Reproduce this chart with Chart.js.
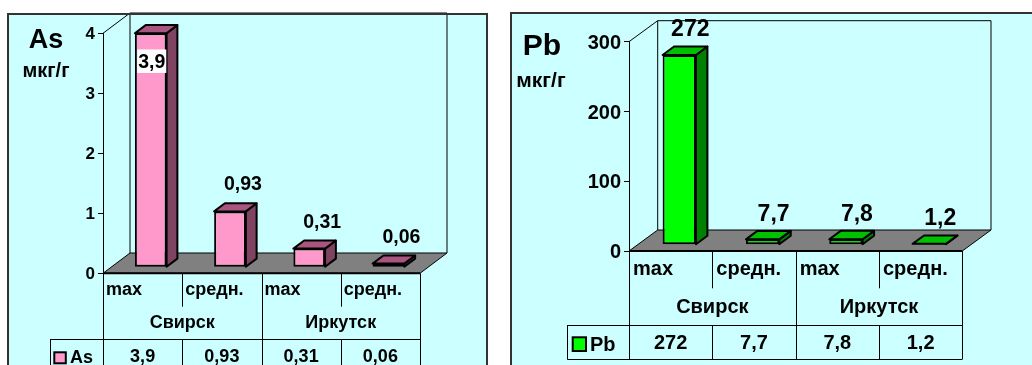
<!DOCTYPE html>
<html>
<head>
<meta charset="utf-8">
<script src="https://cdn.jsdelivr.net/npm/chart.js@4/dist/chart.umd.min.js"></script>
<style>
  html, body { margin: 0; padding: 0; background: #fff; width: 1032px; height: 365px; overflow: hidden; }
  canvas { position: absolute; top: 0; }
  #asChart { left: 0; }
  #pbChart { left: 500px; }
</style>
</head>
<body>
<canvas id="asChart" width="500" height="365"></canvas>
<canvas id="pbChart" width="532" height="365"></canvas>
<script>
// Sampling points: two towns, max and mean value for each
const subCategories = ['max', 'средн.', 'max', 'средн.'];
const towns = ['Свирск', 'Иркутск'];
const unitLabel = 'мкг/г';

// Arsenic content, мкг/г
const asValues = [3.9, 0.93, 0.31, 0.06];
const asTicks = [0, 1, 2, 3, 4];

// Lead content, мкг/г
const pbValues = [272, 7.7, 7.8, 1.2];
const pbTicks = [0, 100, 200, 300];

const FONT = '"Liberation Sans", Arial, Helvetica, sans-serif';
const fmt = v => String(v).replace('.', ',');
const px = v => Math.round(v) + 0.5;

// Draws an Excel-style 3D frame (side wall, back wall, floor), prism bars,
// value labels, value-axis labels and the data table under the category axis.
function frame3d(cfg) {
  const D = cfg.depth;
  const fx = D.x * cfg.barFront, fy = D.y * cfg.barFront;
  const bx = D.x * cfg.barDepth, by = D.y * cfg.barDepth;
  return {
    id: 'frame3d',
    beforeDraw(chart) {
      const ctx = chart.ctx, a = chart.chartArea, b = cfg.box;
      ctx.save();
      ctx.fillStyle = '#CCFFFF';
      ctx.fillRect(b.x, b.y, b.w, b.h);

      // floor
      ctx.beginPath();
      ctx.moveTo(a.left, a.bottom);
      ctx.lineTo(a.right, a.bottom);
      ctx.lineTo(a.right + D.x, a.bottom + D.y);
      ctx.lineTo(a.left + D.x, a.bottom + D.y);
      ctx.closePath();
      ctx.fillStyle = '#808080';
      ctx.fill();
      ctx.lineWidth = 1;
      ctx.strokeStyle = '#000';
      ctx.stroke();

      // side wall and back wall edges
      ctx.beginPath();
      ctx.moveTo(a.left, a.top);
      ctx.lineTo(a.left + D.x, a.top + D.y);
      ctx.lineTo(a.right + D.x, a.top + D.y);
      ctx.lineTo(a.right + D.x, a.bottom + D.y);
      ctx.moveTo(a.left + D.x, a.top + D.y);
      ctx.lineTo(a.left + D.x, a.bottom + D.y);
      ctx.stroke();

      // outer border
      ctx.lineWidth = 2;
      ctx.strokeStyle = '#333';
      ctx.strokeRect(b.x, b.y, b.w, b.h);

      // element symbol and unit
      ctx.fillStyle = '#000';
      ctx.textAlign = 'center';
      ctx.textBaseline = 'alphabetic';
      ctx.font = `bold ${cfg.title.size}px ${FONT}`;
      ctx.fillText(cfg.seriesName, cfg.title.x, cfg.title.y);
      ctx.font = `bold ${cfg.unit.size}px ${FONT}`;
      ctx.fillText(unitLabel, cfg.unit.x, cfg.unit.y);

      // value-axis labels at the scale's ticks
      const ys = chart.scales.y;
      ctx.font = `bold ${cfg.tickFont}px ${FONT}`;
      ctx.textAlign = 'right';
      ys.ticks.forEach(tk => {
        ctx.fillText(String(tk.value), a.left - 8, ys.getPixelForValue(tk.value) + cfg.tickFont * 0.36);
      });
      ctx.restore();
    },
    beforeDatasetsDraw(chart) {
      const ctx = chart.ctx;
      ctx.save();
      // bars stand in the middle of the floor depth
      ctx.translate(fx, fy);
      const meta = chart.getDatasetMeta(0);
      ctx.save();
      ctx.lineWidth = 2;
      ctx.strokeStyle = '#000';
      ctx.lineJoin = 'round';
      meta.data.forEach(el => {
        const { x, y, base, width } = el.getProps(['x', 'y', 'base', 'width'], true);
        const x0 = x - width / 2, x1 = x + width / 2;
        // right side face
        ctx.beginPath();
        ctx.moveTo(x1, y);
        ctx.lineTo(x1 + bx, y + by);
        ctx.lineTo(x1 + bx, base + by);
        ctx.lineTo(x1, base);
        ctx.closePath();
        ctx.fillStyle = cfg.colors.side;
        ctx.fill();
        ctx.stroke();
        // top face
        ctx.beginPath();
        ctx.moveTo(x0, y);
        ctx.lineTo(x1, y);
        ctx.lineTo(x1 + bx, y + by);
        ctx.lineTo(x0 + bx, y + by);
        ctx.closePath();
        ctx.fillStyle = cfg.colors.top;
        ctx.fill();
        ctx.stroke();
      });
      ctx.restore();
    },
    afterDatasetsDraw(chart) {
      const ctx = chart.ctx;
      ctx.restore();
      const meta = chart.getDatasetMeta(0);
      const data = chart.data.datasets[0].data;
      ctx.save();
      ctx.font = `bold ${cfg.labelFont}px ${FONT}`;
      ctx.textAlign = 'center';
      ctx.textBaseline = 'alphabetic';
      const half = cfg.labelFont * 0.36;
      meta.data.forEach((el, i) => {
        const t = fmt(data[i]);
        let cx = el.x + fx + cfg.labelOff.x;
        let cy = el.y + fy + cfg.labelOff.y;
        if (cy - cfg.labelFont * 0.6 < cfg.box.y) {
          // no room above the bar: put the label inside on a white patch
          cx = el.x + fx + cfg.insideOff.x;
          cy = el.y + fy + cfg.insideOff.y;
          const w = ctx.measureText(t).width + 2, h = cfg.labelFont + 4;
          ctx.fillStyle = '#fff';
          ctx.fillRect(cx - w / 2, cy - h / 2, w, h);
        }
        ctx.fillStyle = '#000';
        ctx.fillText(t, cx, cy + half);
      });
      ctx.restore();
    },
    afterDraw(chart) {
      const ctx = chart.ctx, a = chart.chartArea, t = cfg.table;
      const xs = chart.scales.x;
      const n = subCategories.length;
      const cw = (a.right - a.left) / n;
      const edges = [];
      for (let i = 0; i <= n; i++) edges.push(i < n ? xs.getPixelForValue(i) - cw / 2 : a.right);
      const y0 = a.bottom, y1 = y0 + t.rows[0], y2 = y1 + t.rows[1], y3 = y2 + t.rows[2];

      ctx.save();
      ctx.strokeStyle = '#000';
      ctx.lineWidth = 1;
      ctx.beginPath();
      edges.forEach((x, i) => {
        if (i % 2 === 0) {
          ctx.moveTo(px(x), y0);
          ctx.lineTo(px(x), y3);
        } else {
          ctx.moveTo(px(x), y0);
          ctx.lineTo(px(x), y1);
          ctx.moveTo(px(x), y2);
          ctx.lineTo(px(x), y3);
        }
      });
      ctx.moveTo(t.legendLeft, px(y2));
      ctx.lineTo(a.right, px(y2));
      ctx.moveTo(t.legendLeft, px(y3));
      ctx.lineTo(a.right, px(y3));
      ctx.moveTo(px(t.legendLeft), y2);
      ctx.lineTo(px(t.legendLeft), y3);
      ctx.stroke();
      // category axis line (front edge of the floor)
      ctx.lineWidth = 2;
      ctx.beginPath();
      ctx.moveTo(a.left, y0);
      ctx.lineTo(a.right, y0);
      ctx.stroke();

      ctx.fillStyle = '#000';
      ctx.font = `bold ${t.font}px ${FONT}`;
      ctx.textBaseline = 'alphabetic';
      // sub-category row
      ctx.textAlign = 'left';
      subCategories.forEach((s, i) => ctx.fillText(s, edges[i] + t.catPad, y0 + t.catBase));
      // town row
      ctx.textAlign = 'center';
      towns.forEach((s, g) => ctx.fillText(s, (edges[2 * g] + edges[2 * g + 2]) / 2, y0 + t.groupBase));
      // values row
      chart.data.datasets[0].data.forEach((v, i) =>
        ctx.fillText(fmt(v), (edges[i] + edges[i + 1]) / 2, y0 + t.valueBase));
      // legend key
      ctx.fillStyle = cfg.colors.front;
      ctx.fillRect(t.legendLeft + t.key.dx, y0 + t.key.dy, t.key.w, t.key.h);
      ctx.lineWidth = 2;
      ctx.strokeRect(t.legendLeft + t.key.dx, y0 + t.key.dy, t.key.w, t.key.h);
      ctx.fillStyle = '#000';
      ctx.textAlign = 'left';
      ctx.fillText(cfg.seriesName, t.legendLeft + t.keyTextDx, y0 + t.valueBase + t.keyTextDy);
      ctx.restore();
    }
  };
}

function buildChart(id, values, ticks, cfg) {
  return new Chart(document.getElementById(id), {
    type: 'bar',
    data: {
      labels: subCategories,
      datasets: [{
        label: cfg.seriesName,
        data: values,
        backgroundColor: cfg.colors.front,
        borderColor: '#000',
        borderWidth: 2,
        borderSkipped: false,
        barPercentage: 0.4,
        categoryPercentage: 1,
        clip: false
      }]
    },
    options: {
      responsive: false,
      animation: false,
      devicePixelRatio: 1,
      events: [],
      layout: {
        padding: { left: 0, top: cfg.area.top, right: cfg.canvasW - cfg.area.right, bottom: 365 - cfg.area.bottom }
      },
      plugins: { legend: { display: false }, tooltip: { enabled: false } },
      scales: {
        x: { display: false },
        y: {
          min: 0,
          max: ticks[ticks.length - 1],
          afterBuildTicks: s => { s.ticks = ticks.map(v => ({ value: v })); },
          afterFit: s => { s.width = cfg.area.left; },
          grid: { drawOnChartArea: false, drawTicks: true, tickLength: 5, color: '#000', lineWidth: 1 },
          border: { display: true, color: '#000', width: 1 },
          ticks: { display: false }
        }
      }
    },
    plugins: [frame3d(cfg)]
  });
}

buildChart('asChart', asValues, asTicks, {
  seriesName: 'As',
  canvasW: 500,
  area: { left: 103, right: 420, top: 33.3, bottom: 273.3 },
  box: { x: 8, y: 14, w: 479, h: 400 },
  depth: { x: 27, y: -20.3 },
  barFront: 0.3,
  barDepth: 0.4,
  colors: { front: '#FF99CC', top: '#A8557F', side: '#7F4462' },
  title: { x: 46, y: 48, size: 27 },
  unit: { x: 46, y: 77, size: 20 },
  tickFont: 17,
  labelFont: 19.5,
  labelOff: { x: 13, y: -28 },
  insideOff: { x: 1, y: 28 },
  table: {
    rows: [33.4, 32.6, 33], font: 18, legendLeft: 50, catPad: 3,
    catBase: 21.7, groupBase: 55, valueBase: 88.2,
    key: { dx: 4.3, dy: 79, w: 11.5, h: 11 }, keyTextDx: 20, keyTextDy: 1.5
  }
});

buildChart('pbChart', pbValues, pbTicks, {
  seriesName: 'Pb',
  canvasW: 532,
  area: { left: 129, right: 462.3, top: 41.7, bottom: 251 },
  box: { x: 11, y: 13, w: 560, h: 400 },
  depth: { x: 28.7, y: -21 },
  barFront: 0.3,
  barDepth: 0.4,
  colors: { front: '#00FF00', top: '#00C000', side: '#008000' },
  title: { x: 42, y: 55, size: 30 },
  unit: { x: 41, y: 87, size: 21 },
  tickFont: 20,
  labelFont: 23,
  labelOff: { x: 11, y: -27 },
  insideOff: { x: 1, y: 30 },
  table: {
    rows: [37.3, 36.7, 34.3], font: 20, legendLeft: 67.3, catPad: 4,
    catBase: 24, groupBase: 61.7, valueBase: 98.3,
    key: { dx: 5.4, dy: 86.3, w: 13.3, h: 13.7 }, keyTextDx: 22.7, keyTextDy: 1.5
  }
});
</script>
</body>
</html>
